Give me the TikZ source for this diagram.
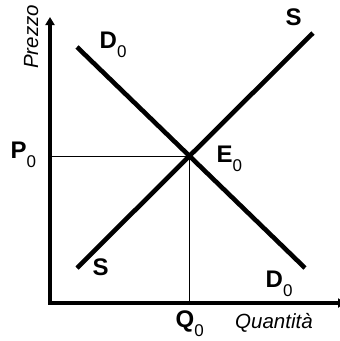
\documentclass[tikz,border=0pt]{standalone}
\usepackage{fontspec}
\setmainfont{Liberation Sans}
\usetikzlibrary{arrows.meta}
\newcommand{\pedice}[1]{\raisebox{-9pt}{\fontsize{17}{17}\mdseries\selectfont #1}}
\tikzset{
  lab/.style={inner sep=0pt, anchor=base west, font=\fontsize{24}{24}\selectfont\bfseries},
  asse/.style={line width=3.3pt, -{Triangle[width=9pt,length=8pt]}},
  curva/.style={line width=4.6pt},
  guida/.style={line width=0.8pt}
}
\begin{document}
\begin{tikzpicture}[x=1pt,y=-1pt]
\useasboundingbox (0,0) rectangle (340,341);
\coordinate (O) at (50,303);
\coordinate (ytop) at (50,17);
\coordinate (xend) at (346,303);
\coordinate (d1) at (77,47);
\coordinate (d2) at (305,268);
\coordinate (s1) at (77,268);
\coordinate (s2) at (313,33);
\coordinate (E) at (189.5,156);
\coordinate (pax) at (50,156);
\coordinate (qax) at (189.5,303);
\draw[guida] (pax) -- (E) -- (qax);
\draw[asse] ([yshift=1.6pt]O) -- (ytop);
\draw[asse] ([xshift=-1.6pt]O) -- (xend);
\draw[curva] (d1) -- (d2);
\draw[curva] (s1) -- (s2);
\node[lab] (dtop) at (99.5,48) {D\pedice{0}};
\node[lab] (stop) at (285.5,25) {S};
\node[lab] (p0) at (10.5,158) {P\pedice{0}};
\node[lab] (e0) at (216.5,162) {E\pedice{0}};
\node[lab] (sbot) at (92.5,275) {S};
\node[lab] (dbot) at (265.5,287) {D\pedice{0}};
\node[lab] (q0) at (175.5,327.5) {Q\pedice{0}};
\node[lab, font=\fontsize{20.5}{20.5}\selectfont\itshape] (qlab) at (235,328) {Quantità};
\node[lab, font=\fontsize{20.5}{20.5}\selectfont\itshape, rotate=90] (plab) at (38,69) {Prezzo};
\end{tikzpicture}
\end{document}
